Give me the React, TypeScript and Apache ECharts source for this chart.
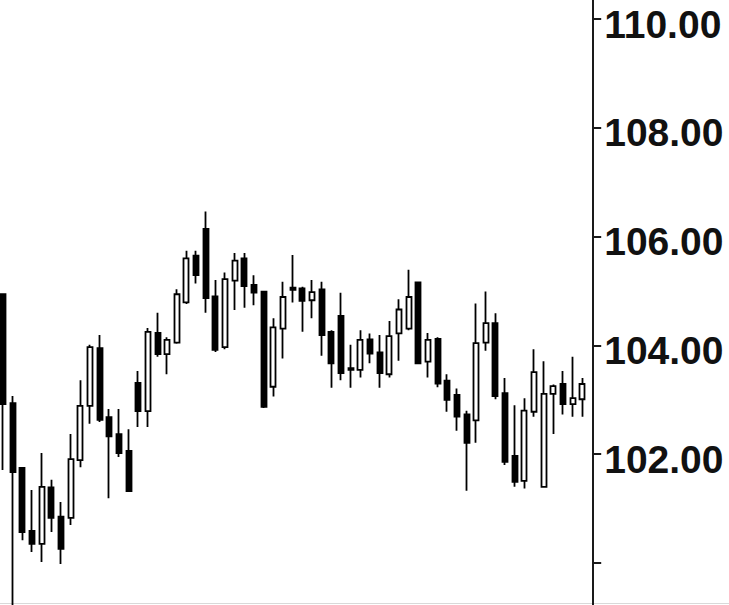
import React, { useEffect, useRef } from "react";
import * as echarts from "echarts";

const categories: string[] = Array.from({ length: 61 }, (_, i) => `D${i + 1}`);

const opens = [
  104.94, 102.94, 101.75, 100.59, 100.35, 101.39, 100.85, 100.83, 101.89, 102.89,
  103.95, 102.68, 102.37, 102.06, 103.31, 102.79, 104.23, 103.84, 104.05, 104.79,
  105.65, 106.14, 104.9, 103.97, 105.19, 105.6, 105.11, 104.99, 103.24, 104.31,
  105.06, 105.05, 104.83, 105.03, 104.25, 104.54, 103.55, 103.55, 104.11, 103.87,
  103.47, 104.22, 104.31, 105.16, 103.7, 104.12, 103.35, 103.09, 102.73, 102.62,
  104.05, 104.41, 103.12, 101.97, 101.51, 102.78, 101.4, 103.11, 103.29, 102.92,
  103.01,
];
const closes = [
  102.92, 101.67, 100.57, 100.35, 101.4, 100.83, 100.26, 101.91, 102.89, 103.97,
  102.63, 102.33, 102.02, 101.32, 102.79, 104.25, 103.84, 104.1, 104.94, 105.6,
  105.29, 104.87, 103.92, 105.22, 105.56, 105.09, 104.97, 102.87, 104.33, 104.89,
  105.02, 104.82, 104.98, 104.19, 103.67, 103.49, 103.58, 104.1, 103.85, 103.49,
  104.17, 104.66, 104.89, 103.67, 104.1, 103.3, 103.0, 102.69, 102.21, 104.04,
  104.41, 103.07, 101.86, 101.49, 102.8, 103.51, 103.11, 103.25, 102.92, 103.03,
  103.29,
];
const lows = [
  101.71, 99.2, 100.42, 100.2, 100.02, 100.57, 99.98, 100.7, 101.76, 102.56,
  102.59, 101.19, 101.95, 101.31, 102.5, 102.5, 103.79, 103.47, 104.03, 104.76,
  105.14, 104.6, 103.88, 103.93, 104.65, 104.69, 104.74, 102.85, 103.06, 103.76,
  104.79, 104.25, 104.5, 103.81, 103.22, 103.36, 103.22, 103.41, 103.67, 103.22,
  103.41, 103.72, 104.28, 103.67, 103.41, 103.23, 102.78, 102.43, 101.33, 102.21,
  103.9, 103.01, 101.8, 101.4, 101.37, 102.69, 101.4, 102.37, 102.73, 102.69,
  102.69,
];
const highs = [
  104.95, 103.07, 101.76, 101.34, 102.02, 101.53, 101.12, 102.37, 103.36, 104.01,
  104.19, 102.83, 102.83, 102.46, 103.53, 104.32, 104.6, 104.15, 105.03, 105.74,
  105.74, 106.46, 105.2, 105.34, 105.7, 105.7, 105.29, 105.0, 104.5, 105.17,
  105.66, 105.08, 105.2, 105.17, 104.28, 104.97, 104.01, 104.28, 104.22, 104.19,
  104.45, 104.85, 105.39, 105.16, 104.23, 104.15, 103.47, 103.21, 102.8, 104.77,
  104.99, 104.59, 103.4, 102.9, 103.03, 103.93, 103.71, 103.28, 103.53, 103.79,
  103.4,
];

export default function App() {
  const ref = useRef<HTMLDivElement>(null);
  useEffect(() => {
    const chart = echarts.init(ref.current!, null, { renderer: "svg" });
    const data = opens.map((o, i) => [o, closes[i], lows[i], highs[i]]);
    chart.setOption({
      animation: false,
      backgroundColor: "#ffffff",
      grid: {
        left: -1.8,
        top: -89.8,
        width: 589,
        height: 761.6,
        containLabel: false,
        outerBoundsMode: "none",
      },
      xAxis: { type: "category", data: categories, show: false, boundaryGap: true },
      yAxis: {
        type: "value",
        position: "right",
        offset: 6,
        min: 98,
        max: 112,
        interval: 2,
        axisLine: { show: true, lineStyle: { color: "#1a1a1a", width: 2 } },
        axisTick: { show: true, inside: false, length: 8, lineStyle: { color: "#1a1a1a", width: 2 } },
        axisLabel: {
          margin: 11,
          color: "#111",
          fontWeight: "bold",
          fontSize: 39,
          lineHeight: 10,
          verticalAlign: "top",
          fontFamily: "Liberation Sans, Arial, sans-serif",
          formatter: (v: number) => (v >= 101 && v <= 111 ? v.toFixed(2) : ""),
        },
        splitLine: { show: false },
      },
      graphic: [
        {
          type: "line",
          shape: { x1: 0, y1: 603.5, x2: 729, y2: 603.5 },
          style: { stroke: "#d9d9d9", lineWidth: 1 },
          silent: true,
        },
      ],
      series: [
        {
          type: "candlestick",
          data,
          barWidth: 5.5,
          clip: false,
          itemStyle: {
            color: "#ffffff",
            color0: "#000000",
            borderColor: "#000000",
            borderColor0: "#000000",
            borderWidth: 1.8,
          },
        },
      ],
    });
    return () => chart.dispose();
  }, []);
  return (
    <div
      ref={ref}
      style={{ position: "absolute", left: 0, top: 0, width: 729, height: 605 }}
    />
  );
}
